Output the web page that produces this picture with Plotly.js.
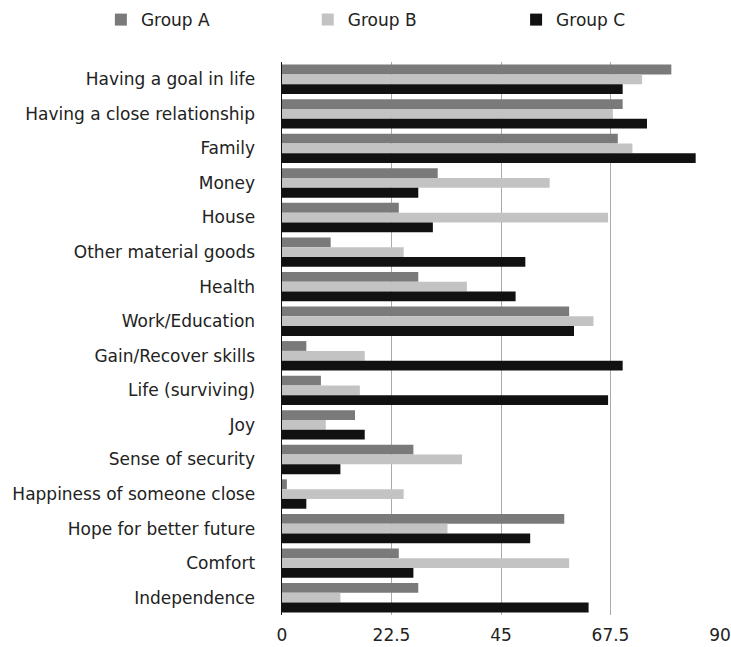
<!DOCTYPE html>
<html>
<head>
<meta charset="utf-8">
<script src="https://cdn.plot.ly/plotly-3.0.1.min.js"></script>
<style>html,body{margin:0;padding:0;background:#fff;}#chart{width:731px;height:647px;}</style>
</head>
<body>
<div id="chart"></div>
<script>
const categories = [
  "Having a goal in life",
  "Having a close relationship",
  "Family",
  "Money",
  "House",
  "Other material goods",
  "Health",
  "Work/Education",
  "Gain/Recover skills",
  "Life (surviving)",
  "Joy",
  "Sense of security",
  "Happiness of someone close",
  "Hope for better future",
  "Comfort",
  "Independence"
];
const groupA = [80, 70, 69, 32, 24, 10, 28, 59, 5, 8, 15, 27, 1, 58, 24, 28];
const groupB = [74, 68, 72, 55, 67, 25, 38, 64, 17, 16, 9, 37, 25, 34, 59, 12];
const groupC = [70, 75, 85, 28, 31, 50, 48, 60, 70, 67, 17, 12, 5, 51, 27, 63];
const tickVals = [0, 22.5, 45, 67.5, 90];
const tickText = ["0", "22.5", "45", "67.5", "90"];

const font = {family: "DejaVu Sans, Liberation Sans, sans-serif", size: 17, color: "#222"};
function mk(name, vals, color, legend) {
  return {type: "bar", orientation: "h", name: name, y: categories, x: vals,
          marker: {color: color, line: {width: 0}}, hoverinfo: "x+y", legend: legend};
}
const data = [
  mk("Group A", groupA, "#7a7a7a", "legend"),
  mk("Group B", groupB, "#c3c3c3", "legend2"),
  mk("Group C", groupC, "#111111", "legend3")
];
function leg(x) {
  return {orientation: "h", xref: "container", yref: "container", x: x, xanchor: "left",
          y: 0.969, yanchor: "middle", font: font, bgcolor: "rgba(0,0,0,0)"};
}
const layout = {
  width: 731, height: 647,
  margin: {l: 282, r: 11, t: 62, b: 32, pad: 0, autoexpand: false},
  paper_bgcolor: "#fff", plot_bgcolor: "#fff",
  font: font,
  barmode: "group", bargap: 0.15, bargroupgap: 0,
  showlegend: true,
  legend: leg(0.138),
  legend2: leg(0.421),
  legend3: leg(0.706),
  xaxis: {range: [0, 90], tickvals: tickVals, ticktext: tickText, showgrid: true,
          gridcolor: "#aaaaaa", gridwidth: 1, zeroline: false, showline: false,
          ticks: "", tickfont: font, ticklabelstandoff: 8, fixedrange: true, automargin: false},
  yaxis: {autorange: "reversed", showgrid: false, zeroline: false, showline: true,
          linecolor: "#111", linewidth: 1.5, ticks: "", tickfont: font,
          ticklabelstandoff: 22, fixedrange: true, automargin: false}
};
Plotly.newPlot("chart", data, layout, {displayModeBar: false, staticPlot: true});
</script>
</body>
</html>
